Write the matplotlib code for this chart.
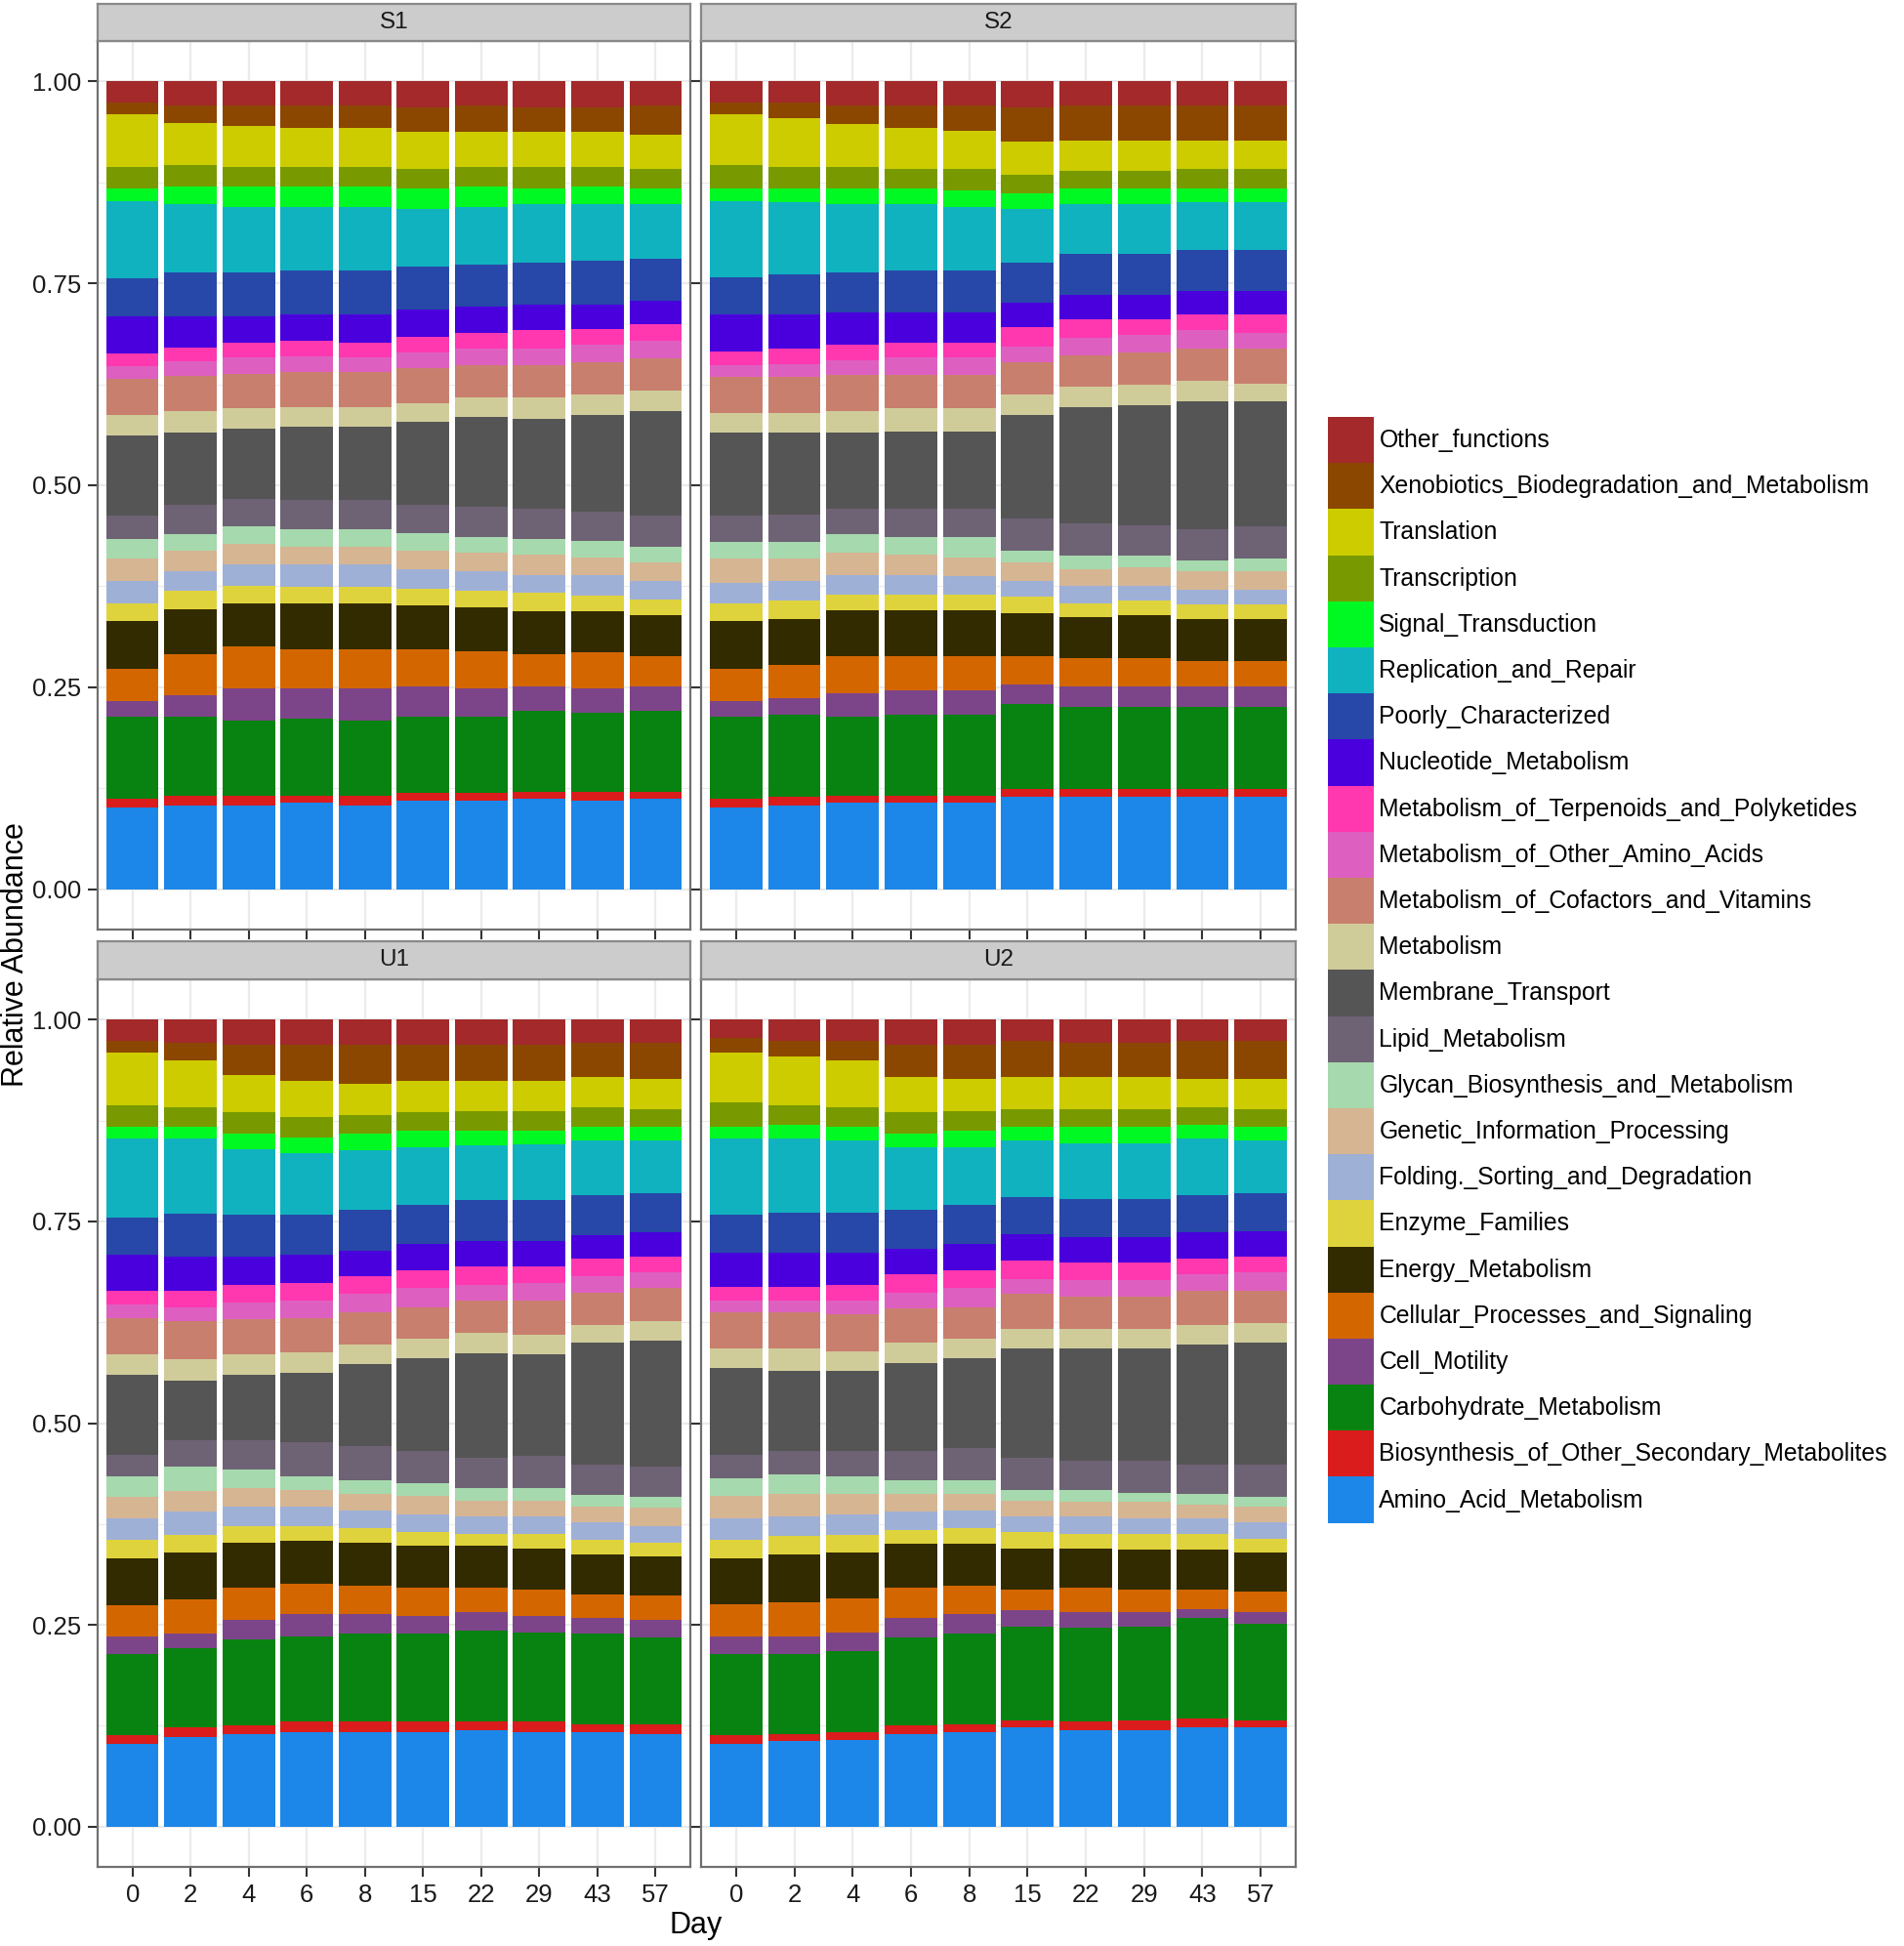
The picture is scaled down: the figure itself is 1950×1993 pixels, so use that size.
import numpy as np
import matplotlib
matplotlib.use("Agg")
from matplotlib import pyplot as plt
from matplotlib.patches import Patch

plt.rcParams['font.family'] = ['Liberation Sans', 'DejaVu Sans']

days = ["0", "2", "4", "6", "8", "15", "22", "29", "43", "57"]
facets = ["S1", "S2", "U1", "U2"]

# stacking order, bottom to top
categories = ["Amino_Acid_Metabolism", "Biosynthesis_of_Other_Secondary_Metabolites",
              "Carbohydrate_Metabolism", "Cell_Motility", "Cellular_Processes_and_Signaling",
              "Energy_Metabolism", "Enzyme_Families", "Folding._Sorting_and_Degradation",
              "Genetic_Information_Processing", "Glycan_Biosynthesis_and_Metabolism",
              "Lipid_Metabolism", "Membrane_Transport", "Metabolism",
              "Metabolism_of_Cofactors_and_Vitamins", "Metabolism_of_Other_Amino_Acids",
              "Metabolism_of_Terpenoids_and_Polyketides", "Nucleotide_Metabolism",
              "Poorly_Characterized", "Replication_and_Repair", "Signal_Transduction",
              "Transcription", "Translation", "Xenobiotics_Biodegradation_and_Metabolism",
              "Other_functions"]

colors = ["#1C87E8", "#DA1C1C", "#088210", "#7D4589", "#D46600", "#332B00", "#DFD33D",
          "#9FB0D6", "#D6B593", "#A6D9AD", "#6E6275", "#555555", "#D0CC9A", "#C87F6E",
          "#DD60C0", "#FF38B0", "#4A00DD", "#2748A8", "#10B2BF", "#00F922", "#789A00",
          "#CCCC00", "#8B4700", "#A3292B"]

# cumulative relative abundance at the top of each segment (last one reaches 1.0)
s1_cum = [
    [0.101, 0.112, 0.214, 0.233, 0.273, 0.332, 0.354, 0.382, 0.409, 0.433, 0.462, 0.562, 0.587, 0.632, 0.647, 0.663, 0.709, 0.756, 0.852, 0.867, 0.894, 0.959, 0.974],
    [0.104, 0.116, 0.214, 0.240, 0.291, 0.347, 0.369, 0.394, 0.419, 0.440, 0.476, 0.565, 0.592, 0.635, 0.654, 0.671, 0.709, 0.763, 0.848, 0.870, 0.897, 0.949, 0.970],
    [0.104, 0.116, 0.209, 0.248, 0.300, 0.354, 0.376, 0.402, 0.427, 0.449, 0.483, 0.570, 0.595, 0.638, 0.658, 0.677, 0.709, 0.763, 0.845, 0.870, 0.894, 0.945, 0.970],
    [0.107, 0.116, 0.211, 0.248, 0.297, 0.354, 0.374, 0.402, 0.424, 0.446, 0.482, 0.572, 0.597, 0.640, 0.660, 0.679, 0.712, 0.766, 0.845, 0.870, 0.894, 0.942, 0.970],
    [0.104, 0.116, 0.209, 0.248, 0.297, 0.354, 0.374, 0.402, 0.424, 0.446, 0.482, 0.572, 0.597, 0.640, 0.658, 0.677, 0.712, 0.766, 0.845, 0.870, 0.894, 0.942, 0.970],
    [0.109, 0.119, 0.214, 0.251, 0.297, 0.351, 0.372, 0.396, 0.419, 0.441, 0.476, 0.578, 0.602, 0.645, 0.664, 0.684, 0.717, 0.771, 0.842, 0.867, 0.892, 0.937, 0.968],
    [0.109, 0.119, 0.214, 0.248, 0.295, 0.349, 0.369, 0.394, 0.416, 0.436, 0.473, 0.585, 0.609, 0.649, 0.669, 0.689, 0.721, 0.773, 0.845, 0.870, 0.894, 0.937, 0.970],
    [0.112, 0.121, 0.221, 0.251, 0.291, 0.344, 0.367, 0.389, 0.414, 0.433, 0.471, 0.582, 0.609, 0.649, 0.669, 0.692, 0.724, 0.776, 0.848, 0.867, 0.894, 0.937, 0.968],
    [0.109, 0.121, 0.218, 0.248, 0.293, 0.344, 0.364, 0.389, 0.411, 0.431, 0.467, 0.587, 0.612, 0.652, 0.674, 0.694, 0.724, 0.778, 0.848, 0.870, 0.894, 0.937, 0.968],
    [0.112, 0.121, 0.221, 0.251, 0.288, 0.339, 0.359, 0.382, 0.404, 0.424, 0.462, 0.592, 0.617, 0.657, 0.679, 0.699, 0.729, 0.780, 0.848, 0.867, 0.892, 0.934, 0.970],
]

s2_cum = [
    [0.101, 0.112, 0.214, 0.233, 0.273, 0.332, 0.354, 0.379, 0.409, 0.430, 0.462, 0.565, 0.590, 0.634, 0.649, 0.666, 0.712, 0.758, 0.852, 0.867, 0.896, 0.959, 0.974],
    [0.104, 0.114, 0.216, 0.236, 0.278, 0.334, 0.357, 0.382, 0.409, 0.430, 0.464, 0.565, 0.590, 0.634, 0.650, 0.669, 0.712, 0.761, 0.850, 0.867, 0.894, 0.954, 0.974],
    [0.107, 0.116, 0.214, 0.243, 0.288, 0.345, 0.365, 0.389, 0.416, 0.439, 0.471, 0.565, 0.592, 0.637, 0.655, 0.674, 0.714, 0.763, 0.848, 0.867, 0.894, 0.947, 0.970],
    [0.107, 0.116, 0.216, 0.246, 0.288, 0.345, 0.365, 0.389, 0.414, 0.436, 0.471, 0.567, 0.595, 0.637, 0.658, 0.677, 0.714, 0.766, 0.848, 0.867, 0.892, 0.942, 0.970],
    [0.107, 0.116, 0.216, 0.246, 0.288, 0.345, 0.365, 0.387, 0.411, 0.436, 0.471, 0.567, 0.595, 0.637, 0.658, 0.677, 0.714, 0.766, 0.845, 0.865, 0.892, 0.939, 0.970],
    [0.114, 0.124, 0.229, 0.253, 0.288, 0.342, 0.362, 0.382, 0.404, 0.419, 0.459, 0.587, 0.612, 0.652, 0.672, 0.696, 0.726, 0.776, 0.842, 0.862, 0.885, 0.925, 0.968],
    [0.114, 0.124, 0.226, 0.251, 0.286, 0.337, 0.354, 0.376, 0.396, 0.413, 0.453, 0.597, 0.622, 0.661, 0.683, 0.706, 0.736, 0.786, 0.848, 0.867, 0.889, 0.927, 0.970],
    [0.114, 0.124, 0.226, 0.251, 0.286, 0.339, 0.357, 0.376, 0.399, 0.413, 0.451, 0.599, 0.624, 0.664, 0.686, 0.706, 0.736, 0.786, 0.848, 0.867, 0.889, 0.927, 0.970],
    [0.114, 0.124, 0.226, 0.251, 0.283, 0.334, 0.352, 0.371, 0.394, 0.407, 0.446, 0.604, 0.629, 0.669, 0.692, 0.712, 0.741, 0.791, 0.850, 0.867, 0.892, 0.927, 0.970],
    [0.114, 0.124, 0.226, 0.251, 0.283, 0.334, 0.352, 0.371, 0.394, 0.409, 0.449, 0.604, 0.626, 0.669, 0.689, 0.712, 0.741, 0.791, 0.850, 0.867, 0.892, 0.927, 0.970],
]

u1_cum = [
    [0.103, 0.113, 0.214, 0.235, 0.274, 0.333, 0.355, 0.382, 0.409, 0.434, 0.461, 0.560, 0.585, 0.630, 0.647, 0.664, 0.709, 0.755, 0.853, 0.867, 0.894, 0.959, 0.974],
    [0.111, 0.123, 0.221, 0.239, 0.281, 0.340, 0.362, 0.390, 0.416, 0.446, 0.479, 0.553, 0.579, 0.627, 0.644, 0.664, 0.706, 0.760, 0.853, 0.867, 0.892, 0.949, 0.971],
    [0.115, 0.125, 0.232, 0.256, 0.296, 0.352, 0.372, 0.397, 0.419, 0.442, 0.479, 0.560, 0.585, 0.629, 0.649, 0.671, 0.706, 0.758, 0.840, 0.859, 0.885, 0.932, 0.969],
    [0.117, 0.130, 0.236, 0.263, 0.301, 0.354, 0.372, 0.397, 0.417, 0.434, 0.477, 0.562, 0.588, 0.630, 0.652, 0.674, 0.709, 0.758, 0.835, 0.854, 0.879, 0.924, 0.969],
    [0.117, 0.130, 0.239, 0.263, 0.298, 0.352, 0.370, 0.392, 0.412, 0.429, 0.471, 0.573, 0.597, 0.637, 0.660, 0.682, 0.714, 0.765, 0.838, 0.859, 0.882, 0.921, 0.969],
    [0.117, 0.130, 0.239, 0.261, 0.296, 0.348, 0.365, 0.387, 0.410, 0.426, 0.466, 0.580, 0.605, 0.644, 0.667, 0.689, 0.722, 0.770, 0.842, 0.862, 0.885, 0.924, 0.969],
    [0.120, 0.130, 0.243, 0.266, 0.296, 0.348, 0.363, 0.384, 0.404, 0.419, 0.457, 0.587, 0.612, 0.652, 0.671, 0.694, 0.726, 0.776, 0.844, 0.862, 0.887, 0.924, 0.969],
    [0.117, 0.130, 0.241, 0.261, 0.294, 0.345, 0.363, 0.384, 0.404, 0.419, 0.459, 0.585, 0.609, 0.652, 0.674, 0.694, 0.726, 0.776, 0.845, 0.862, 0.887, 0.924, 0.969],
    [0.117, 0.127, 0.239, 0.259, 0.288, 0.337, 0.355, 0.377, 0.397, 0.411, 0.449, 0.600, 0.622, 0.662, 0.682, 0.704, 0.733, 0.783, 0.850, 0.867, 0.892, 0.929, 0.971],
    [0.115, 0.127, 0.234, 0.256, 0.286, 0.335, 0.352, 0.372, 0.395, 0.409, 0.446, 0.602, 0.627, 0.667, 0.687, 0.706, 0.736, 0.785, 0.850, 0.867, 0.889, 0.927, 0.971],
]

u2_cum = [
    [0.103, 0.113, 0.214, 0.236, 0.276, 0.333, 0.355, 0.382, 0.410, 0.432, 0.461, 0.568, 0.592, 0.637, 0.652, 0.669, 0.711, 0.758, 0.853, 0.867, 0.897, 0.959, 0.977],
    [0.106, 0.115, 0.214, 0.236, 0.278, 0.337, 0.360, 0.384, 0.412, 0.437, 0.466, 0.565, 0.592, 0.637, 0.652, 0.669, 0.711, 0.761, 0.853, 0.870, 0.894, 0.954, 0.974],
    [0.107, 0.117, 0.217, 0.241, 0.283, 0.340, 0.362, 0.387, 0.412, 0.434, 0.466, 0.565, 0.589, 0.635, 0.652, 0.671, 0.711, 0.761, 0.850, 0.867, 0.892, 0.949, 0.974],
    [0.115, 0.125, 0.234, 0.259, 0.296, 0.350, 0.368, 0.390, 0.412, 0.429, 0.466, 0.575, 0.600, 0.642, 0.662, 0.684, 0.716, 0.765, 0.842, 0.859, 0.885, 0.929, 0.969],
    [0.117, 0.127, 0.239, 0.263, 0.298, 0.350, 0.370, 0.392, 0.412, 0.429, 0.469, 0.580, 0.605, 0.644, 0.667, 0.689, 0.722, 0.770, 0.842, 0.862, 0.887, 0.927, 0.969],
    [0.123, 0.132, 0.248, 0.268, 0.294, 0.345, 0.365, 0.384, 0.404, 0.417, 0.457, 0.593, 0.617, 0.660, 0.679, 0.702, 0.734, 0.780, 0.850, 0.867, 0.889, 0.929, 0.974],
    [0.120, 0.130, 0.246, 0.266, 0.296, 0.345, 0.363, 0.384, 0.402, 0.417, 0.454, 0.593, 0.617, 0.657, 0.677, 0.699, 0.731, 0.778, 0.847, 0.867, 0.889, 0.929, 0.971],
    [0.120, 0.132, 0.248, 0.266, 0.294, 0.343, 0.363, 0.382, 0.402, 0.414, 0.454, 0.593, 0.617, 0.657, 0.677, 0.699, 0.731, 0.778, 0.847, 0.867, 0.889, 0.929, 0.971],
    [0.123, 0.134, 0.259, 0.270, 0.294, 0.343, 0.363, 0.382, 0.399, 0.412, 0.449, 0.597, 0.622, 0.664, 0.684, 0.704, 0.736, 0.783, 0.853, 0.870, 0.892, 0.927, 0.974],
    [0.123, 0.132, 0.251, 0.266, 0.291, 0.340, 0.357, 0.377, 0.397, 0.409, 0.449, 0.600, 0.624, 0.664, 0.687, 0.706, 0.738, 0.785, 0.850, 0.867, 0.889, 0.927, 0.974],
]

facet_data = {"S1": s1_cum, "S2": s2_cum, "U1": u1_cum, "U2": u2_cum}

W, H = 1950, 1993
fig = plt.figure(figsize=(W / 100, H / 100), dpi=100)

# panel boxes in pixels: (left, right) and (strip_top, strip_bottom, panel_bottom)
cols = [(100, 707), (718, 1327)]
rows = [(4, 42, 952), (964, 1003, 1912)]

grid_c = "#EBEBEB"
border_c = "#707070"
text_c = "#1A1A1A"
x = np.arange(1, len(days) + 1)

for i, name in enumerate(facets):
    l, r = cols[i % 2]
    st, sb, pb = rows[i // 2]
    ax = fig.add_axes([l / W, 1 - pb / H, (r - l) / W, (pb - sb) / H])
    cum = np.array(facet_data[name])
    cum = np.hstack([cum, np.ones((len(days), 1))])
    shares = np.diff(cum, axis=1, prepend=0.0)
    bottom = np.zeros(len(days))
    for k, cat in enumerate(categories):
        ax.bar(x, shares[:, k], width=0.9, bottom=bottom, color=colors[k],
               linewidth=0, zorder=2)
        bottom = bottom + shares[:, k]

    ax.set_xlim(0.4, 10.6)
    ax.set_ylim(-0.05, 1.05)
    ax.set_yticks([0, 0.25, 0.5, 0.75, 1.0])
    ax.set_yticks([0.125, 0.375, 0.625, 0.875], minor=True)
    ax.set_xticks(x)
    ax.grid(True, which="major", color=grid_c, lw=1.6, zorder=0)
    ax.grid(True, which="minor", axis="y", color=grid_c, lw=0.8, zorder=0)
    ax.tick_params(axis="both", which="major", length=7, width=1.5, color="#333333",
                   labelsize=18.5, labelcolor=text_c, pad=5)
    ax.tick_params(axis="y", which="minor", length=0)
    for sp in ax.spines.values():
        sp.set_color(border_c)
        sp.set_linewidth(1.6)
    if i % 2 == 0:
        ax.set_yticklabels(["0.00", "0.25", "0.50", "0.75", "1.00"])
    else:
        ax.tick_params(axis="y", labelleft=False)
    if i // 2 == 1:
        ax.set_xticklabels(days)
    else:
        ax.tick_params(axis="x", labelbottom=False)

    strip = fig.add_axes([l / W, 1 - sb / H, (r - l) / W, (sb - st) / H])
    strip.set_facecolor("#CCCCCC")
    strip.set_xticks([])
    strip.set_yticks([])
    for sp in strip.spines.values():
        sp.set_color("#888888")
        sp.set_linewidth(1.6)
    strip.text(0.5, 0.5, name, ha="center", va="center", fontsize=17.5, color=text_c,
               transform=strip.transAxes)

fig.text(713 / W, 1 - 1972 / H, "Day", ha="center", va="center", fontsize=22)
fig.text(16 / W, 1 - 978 / H, "Relative Abundance", ha="center", va="center",
         rotation=90, fontsize=22)

handles = [Patch(facecolor=c, edgecolor="none") for c in colors[::-1]]
fig.legend(handles, categories[::-1], loc="upper left",
           bbox_to_anchor=(1360 / W, 1 - 427 / H), frameon=False, fontsize=17.8,
           borderpad=0, borderaxespad=0, labelspacing=0, handlelength=1.9,
           handleheight=2.56, handletextpad=0.22)

fig.savefig("out.png", dpi=100)
